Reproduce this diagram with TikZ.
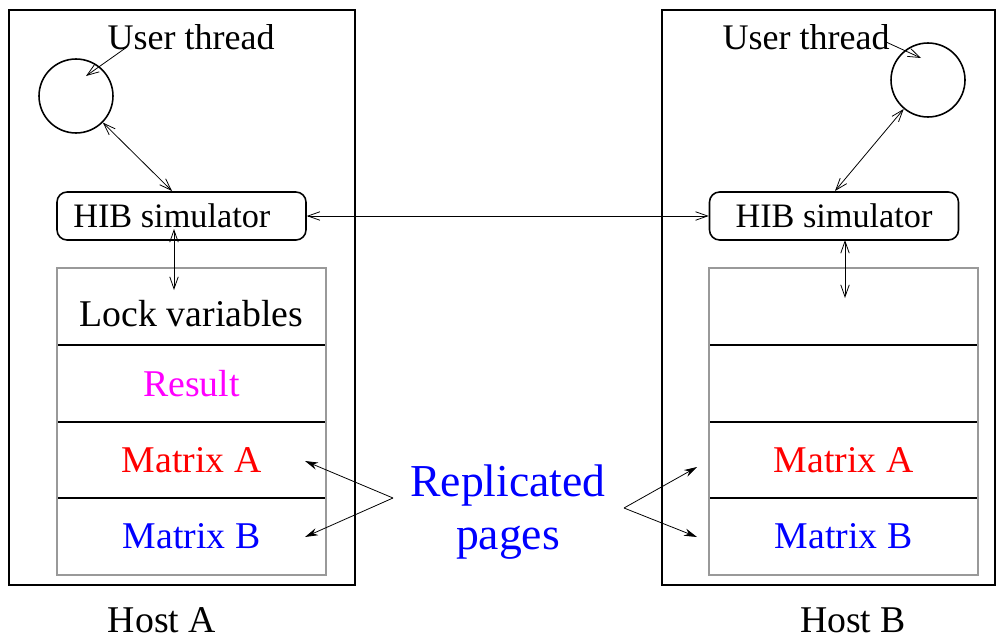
\documentclass[tikz,border=0pt]{standalone}
\usepackage{fontspec}
\setmainfont{Liberation Serif}
\usetikzlibrary{arrows.meta}
\definecolor{resultpink}{RGB}{255,0,255}
\begin{document}
\begin{tikzpicture}[x=0.02cm,y=-0.02cm,
  host/.style={draw,line width=1.1pt,inner sep=0pt},
  memrow/.style={draw=black,line width=0.7pt,minimum width=53.8mm,minimum height=15.4mm,inner sep=0pt,font=\fontsize{21.5}{24}\selectfont},
  hib/.style={draw,line width=0.9pt,rounded corners=2mm,minimum width=49.8mm,minimum height=9.6mm,inner sep=0pt,font=\fontsize{19.5}{22}\selectfont},
  thread/.style={draw,circle,line width=0.9pt,minimum size=14.8mm,inner sep=0pt},
  lbl/.style={font=\fontsize{20.5}{23}\selectfont,inner sep=0pt},
  hostlbl/.style={font=\fontsize{21.5}{24}\selectfont,inner sep=0pt},
  rep/.style={font=\fontsize{26}{30}\selectfont,text=blue,inner sep=0pt},
  link/.style={line width=0.45pt,{Straight Barb[length=2.4mm,width=1.7mm]}-{Straight Barb[length=2.4mm,width=1.7mm]}},
  onearrow/.style={line width=0.45pt,-{Straight Barb[length=2.4mm,width=1.7mm]}},
  replink/.style={line width=0.45pt,-{Stealth[length=2.6mm,width=1.5mm]}}]
\useasboundingbox (0,0) rectangle (996,639);

% host frames
\draw[host] (9,10) rectangle (355,585);
\draw[host] (662,10) rectangle (995,585);

% ---- Host A ----
\node[lbl] (utA) at (191,37) {User thread};
\node[thread] (cA) at (76,96) {};
\node[hib] (hA) at (181.5,216) {\hspace*{-11pt}HIB simulator};
\node[memrow] (lockA) at (191.5,306.5) {\raisebox{-1.4mm}[\height][\depth]{Lock variables}};
\node[memrow,text=resultpink] (resA) at (191.5,383.5) {Result};
\node[memrow,text=red] (maA) at (191.5,460) {Matrix A};
\node[memrow,text=blue] (mbA) at (191.5,536.5) {Matrix B};
\draw[gray!80,line width=0.7pt] (57,268) rectangle (326,575);

% ---- Host B ----
\node[lbl] (utB) at (806,37) {User thread};
\node[thread] (cB) at (928,80) {};
\node[hib] (hB) at (834,216) {HIB simulator};
\node[memrow] (lockB) at (843.5,306.5) {};
\node[memrow] (resB) at (843.5,383.5) {};
\node[memrow,text=red] (maB) at (843.5,460) {Matrix A};
\node[memrow,text=blue] (mbB) at (843.5,536.5) {Matrix B};
\draw[gray!80,line width=0.7pt] (709,268) rectangle (978,575);

% labels under the hosts
\node[hostlbl] (hostA) at (162,620) {Host A};
\node[hostlbl] (hostB) at (853,620) {Host B};

% replicated pages
\node[rep] (rep1) at (508,486) {Replicated};
\node[rep] (rep2) at (508,543) {pages};

% connector end points
\coordinate (utAend) at (127,47);
\coordinate (cAin) at (86,76);
\coordinate (utBend) at (886,42);
\coordinate (cBin) at (921,58);
\coordinate (hAin) at (174,229);
\coordinate (memAin) at (174,290);
\coordinate (hBin) at (845,240);
\coordinate (memBin) at (845,298);
\coordinate (repA) at (393,498);
\coordinate (repB) at (624,508);
\coordinate (tA1) at (305,461);
\coordinate (tA2) at (305,537);
\coordinate (tB1) at (697,467);
\coordinate (tB2) at (697,537);

% connectors
\draw[onearrow] (utAend) -- (cAin);
\draw[onearrow] (utBend) -- (cBin);
\draw[link] (cA) -- (172,191);
\draw[link] (cB) -- (835,191);
\draw[link] (hA.east) -- (hB.west);
\draw[link] (hAin) -- (memAin);
\draw[link] (hBin) -- (memBin);
\draw[replink] (repA) -- (tA1);
\draw[replink] (repA) -- (tA2);
\draw[replink] (repB) -- (tB1);
\draw[replink] (repB) -- (tB2);
\end{tikzpicture}
\end{document}
